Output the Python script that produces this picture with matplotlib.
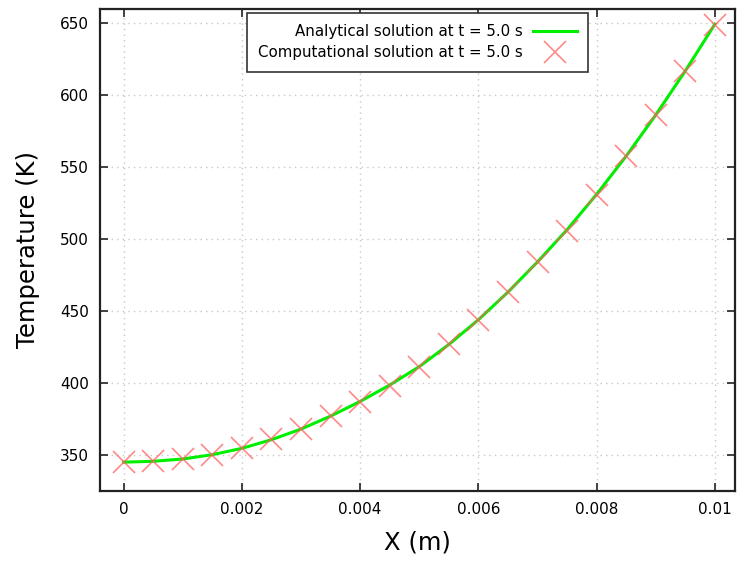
import matplotlib
matplotlib.use("Agg")
import matplotlib.pyplot as plt

# positions along the rod (m)
x_pos = [0.0, 0.0005, 0.001, 0.0015, 0.002, 0.0025, 0.003, 0.0035, 0.004, 0.0045,
         0.005, 0.0055, 0.006, 0.0065, 0.007, 0.0075, 0.008, 0.0085, 0.009, 0.0095, 0.01]

# analytical temperature (K)
temp_analytical = [345.0, 345.6, 347.2, 350.2, 354.6, 360.6, 368.0, 377.0, 387.2, 398.6,
                   411.4, 426.8, 444.0, 463.2, 484.2, 506.6, 531.2, 557.8, 586.4, 617.0, 649.5]

# computational temperature (K)
temp_computational = [345.0, 345.5, 347.0, 350.0, 355.0, 361.0, 368.0, 377.0, 387.0, 398.0,
                      411.0, 427.0, 444.0, 463.0, 484.0, 506.0, 531.0, 558.0, 586.0, 617.0, 649.0]

x_ticks = [0, 0.002, 0.004, 0.006, 0.008, 0.01]
x_ticklabels = ['0', '0.002', '0.004', '0.006', '0.008', '0.01']
y_ticks = [350, 400, 450, 500, 550, 600, 650]

fig = plt.figure(figsize=(7.39, 5.63), dpi=100)
ax = fig.add_axes([0.1353, 0.128, 0.8593, 0.856])

ax.plot(x_pos, temp_analytical, color='#00ee00', lw=2.2,
        label='Analytical solution at t = 5.0 s', zorder=2)
ax.plot(x_pos, temp_computational, ls='none', marker='x', ms=16, mew=1.2,
        color='#ff6060', alpha=0.75, label='Computational solution at t = 5.0 s', zorder=3)

ax.set_xlim(-0.0004, 0.01034)
ax.set_ylim(325, 660)
ax.set_xticks(x_ticks)
ax.set_xticklabels(x_ticklabels)
ax.set_yticks(y_ticks)

ax.grid(True, ls=(0, (1, 3)), color='#c8c8c8', lw=1)
ax.tick_params(direction='in', length=6, width=1.2, top=True, right=True,
               labelsize=11, color='#222222', pad=8)
for s in ax.spines.values():
    s.set_linewidth(1.6)
    s.set_color('#222222')

ax.set_xlabel('X (m)', fontsize=17.5, labelpad=10)
ax.set_ylabel('Temperature (K)', fontsize=17.5, labelpad=14)

leg = ax.legend(loc='upper center', bbox_to_anchor=(0.5, 1.007), markerfirst=False,
                fontsize=10.8, fancybox=False, framealpha=1, edgecolor='#333333',
                handlelength=2.9, handletextpad=0.7, borderpad=0.75, labelspacing=0.4)
leg.get_frame().set_linewidth(1.2)

fig.savefig('out.png', dpi=100)
